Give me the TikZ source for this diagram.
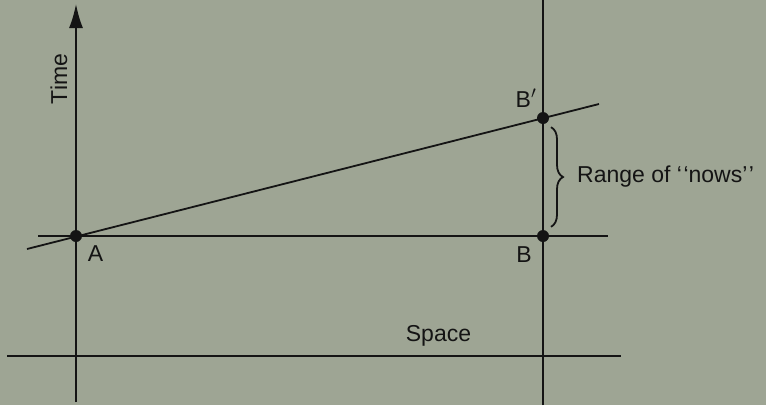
\documentclass[tikz,border=0pt]{standalone}
\usepackage{fontspec}
\setmainfont{Liberation Sans}
\usepackage{tikz}
\usetikzlibrary{arrows.meta,decorations.pathreplacing}
\definecolor{paper}{RGB}{158,165,148}
\definecolor{ink}{RGB}{20,20,20}

\begin{document}
\begin{tikzpicture}[x=1pt,y=-1pt,
    dot/.style={circle,fill=ink,inner sep=0pt,minimum size=12pt},
    lbl/.style={text=ink,inner sep=0pt,font=\fontsize{23}{26}\selectfont},
    ln/.style={draw=ink,line width=1.8pt}]
        \fill[paper] (0,0) rectangle (766,405);
        \useasboundingbox (0,0) rectangle (766,405);
        % axes
        \coordinate (tb) at (76,402); \coordinate (tt) at (76,4);
        \coordinate (sl) at (7,356); \coordinate (sr) at (621,356);
        \coordinate (vb) at (543,405); \coordinate (vt) at (543,0);
        \coordinate (hl) at (38,236); \coordinate (hr) at (608,236);
        \coordinate (ll) at (27,249); \coordinate (lr) at (599,104);
        \draw[ln,-{Latex[length=24pt,width=14pt]}] (tb)--(tt);
        \draw[ln] (sl)--(sr); \draw[ln] (vb)--(vt);
        \draw[ln] (hl)--(hr); \draw[ln] (ll)--(lr);
        % events
        \node[dot] (A) at (76,236) {};
        \node[dot] (B) at (543,236) {};
        \node[dot] (Bp) at (543,118) {};
        \node[lbl] (la) at (95.5,254) {A};
        \node[lbl] (lb) at (524,255) {B};
        \node[lbl] (lbp) at (526,98) {B$'$};
        \node[lbl,rotate=90] (time) at (59,79) {Time};
        \node[lbl] (space) at (438.5,336) {Space};
        \draw[ink,line width=1.8pt,decorate,decoration={brace,amplitude=12pt}]
          ([xshift=8pt,yshift=-3pt]Bp.south) -- ([xshift=8pt,yshift=3pt]B.north)
          coordinate[pos=0.5,xshift=15pt] (tip);
        \node[lbl,anchor=west] (range) at ([xshift=11pt]tip) {Range of {`}\kern1.5pt{`}nows{'}\kern1.5pt{'}};
      \end{tikzpicture}
\end{document}
